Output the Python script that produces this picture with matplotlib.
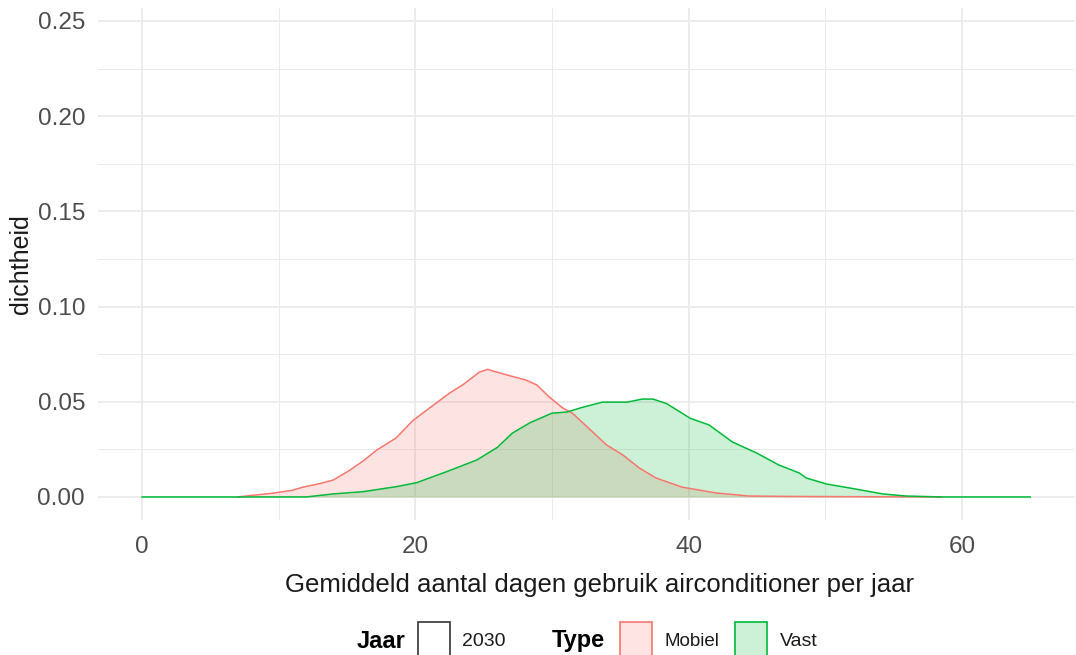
import numpy as np
import matplotlib
matplotlib.use('Agg')
import matplotlib.pyplot as plt
from matplotlib.patches import Rectangle

plt.rcParams['font.family'] = ['Liberation Sans', 'DejaVu Sans']

# Density curves
mob_x = [7.0, 8.0, 9.6, 11.0, 11.8, 13.0, 14.0, 15.2, 16.2, 17.2, 18.6, 19.8, 21.1, 22.5, 23.5,
         24.7, 25.3, 26.0, 27.0, 28.1, 28.9, 29.8, 30.8, 31.5, 32.7, 34.0, 35.2, 36.4, 37.6,
         39.5, 42.0, 44.4, 47.0, 50.0, 54.0, 58.5]
mob_y = [0, 0.0008, 0.002, 0.0035, 0.0052, 0.007, 0.0089, 0.014, 0.019, 0.0247, 0.031, 0.040,
         0.047, 0.0545, 0.059, 0.0656, 0.067, 0.0655, 0.0635, 0.0614, 0.0588, 0.0525, 0.0467,
         0.044, 0.036, 0.0273, 0.022, 0.0152, 0.010, 0.0052, 0.0021, 0.0005, 0.0003, 0.0002,
         0.0001, 0]
vast_x = [0, 12.0, 14.0, 16.2, 18.6, 20.1, 22.3, 24.5, 26.0, 27.1, 28.4, 30.0, 31.1, 32.2, 33.7,
          35.5, 36.6, 37.4, 38.4, 40.1, 41.5, 43.2, 45.0, 46.6, 48.1, 48.6, 50.1, 51.8, 54.2,
          55.9, 58.5, 65.0]
vast_y = [0, 0, 0.0016, 0.0028, 0.0054, 0.0075, 0.0133, 0.0194, 0.026, 0.0335, 0.039, 0.044,
          0.0446, 0.047, 0.0498, 0.0498, 0.0514, 0.0514, 0.049, 0.0414, 0.0378, 0.0289, 0.023,
          0.0168, 0.0126, 0.010, 0.0068, 0.0047, 0.0016, 0.0005, 0, 0]

types = ['Mobiel', 'Vast']
colors = ['#F8766D', '#00BA38']
jaar = '2030'

fig = plt.figure(figsize=(10.76, 6.55), dpi=100)
ax = fig.add_axes([0.0907, 0.2061, 0.908, 0.7817])

for xs, ys, c in [(mob_x, mob_y, colors[0]), (vast_x, vast_y, colors[1])]:
    ax.fill_between(xs, ys, 0, color=c, alpha=0.2, linewidth=0)
    ax.plot(xs, ys, color=c, lw=1.1)

ax.set_xlim(-3.25, 68.25)
ax.set_ylim(-0.0121, 0.2568)
ax.set_xticks([0, 20, 40, 60])
ax.set_yticks([0, 0.05, 0.10, 0.15, 0.20, 0.25])
ax.set_xticks([10, 30, 50], minor=True)
ax.set_yticks([0.025, 0.075, 0.125, 0.175, 0.225], minor=True)
ax.yaxis.set_major_formatter(plt.FuncFormatter(lambda v, p: '%.2f' % v))
ax.grid(True, which='major', color='#EBEBEB', lw=1.3)
ax.grid(True, which='minor', color='#EBEBEB', lw=0.7)
ax.set_axisbelow(True)
for s in ax.spines.values():
    s.set_visible(False)
ax.tick_params(which='both', length=0)
ax.tick_params(axis='x', labelsize=17.5, labelcolor='#4D4D4D', pad=11.5)
ax.tick_params(axis='y', labelsize=17.5, labelcolor='#4D4D4D', pad=9)
ax.set_xlabel('Gemiddeld aantal dagen gebruik airconditioner per jaar', fontsize=18.5,
              color='#1A1A1A')
ax.xaxis.set_label_coords(0.514, -0.103)
ax.set_ylabel('dichtheid', fontsize=18, color='#1A1A1A', labelpad=3)

# Legend at the bottom
W, H = 1076.0, 655.0
def box(x0, fc, ec):
    fig.patches.append(Rectangle((x0 / W, (H - 656) / H), 32 / W, 34 / H, transform=fig.transFigure,
                                 facecolor=fc, edgecolor=ec, lw=1.2))

ly = (H - 641) / H
fig.text(357 / W, ly, 'Jaar', fontsize=17, fontweight='bold', va='center')
box(418, 'white', '#333333')
fig.text(462 / W, ly, jaar, fontsize=14, color='#1A1A1A', va='center')
fig.text(552 / W, ly, 'Type', fontsize=17, fontweight='bold', va='center')
box(620, '#FEE4E2', colors[0])
fig.text(665 / W, ly, types[0], fontsize=13.5, color='#1A1A1A', va='center')
box(735, '#CCF1D7', colors[1])
fig.text(780 / W, ly, types[1], fontsize=14, color='#1A1A1A', va='center')

fig.savefig('out.png', dpi=100)
